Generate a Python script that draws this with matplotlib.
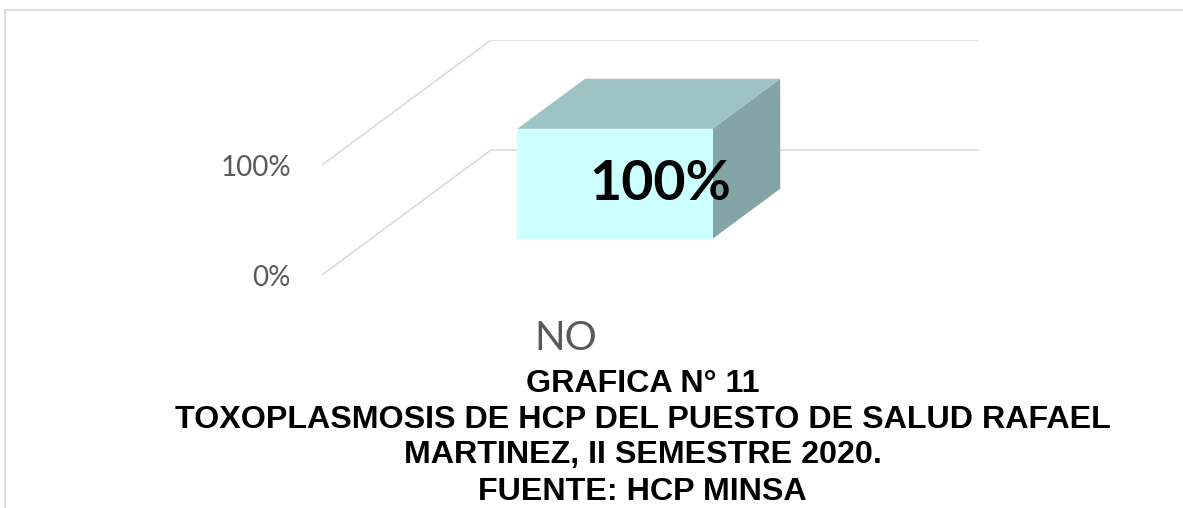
import matplotlib
matplotlib.use("Agg")
import matplotlib.pyplot as plt
from matplotlib.patches import Polygon, Rectangle
import matplotlib.transforms as mtransforms

# ---- data ----
categories = ["NO"]
values = [1.0]            # 100 %
tick_values = [0.0, 1.0]
tick_labels = ["0%", "100%"]
data_labels = ["100%"]
title_lines = ["GRAFICA N° 11",
               "TOXOPLASMOSIS DE HCP DEL PUESTO DE SALUD RAFAEL",
               "MARTINEZ, II SEMESTRE 2020.",
               "FUENTE: HCP MINSA"]

W, H = 1183, 508
fig = plt.figure(figsize=(W / 100, H / 100), dpi=100)
fig.patch.set_facecolor("white")

def fx(px):
    return px / W

def fy(py):
    return 1 - py / H

# chart area border (cropped at right and bottom)
fig.patches.append(Rectangle((fx(5), fy(H + 20)), fx(W + 20) - fx(5), fy(10) - fy(H + 20),
                             transform=fig.transFigure, fill=False,
                             edgecolor="#d9d9d9", linewidth=1.2))

# oblique 3-D projection parameters (in data units)
KX = 169 / 488.0   # horizontal shift for full depth (category units)
KY = 125 / 110.0   # vertical shift for full depth (value units)

left_px, right_px = 322, 979
bottom_px, top_px = 275, 40
ax = fig.add_axes([fx(left_px), fy(bottom_px), fx(right_px) - fx(left_px), fy(top_px) - fy(bottom_px)])
ax.set_xlim(-0.5, 0.5 + KX)
ax.set_ylim(0, 1 + KY)
ax.axis("off")

def proj(x, y, d):
    return (x + d * KX, y + d * KY)

grid_color = "#d9d9d9"
for v in tick_values:
    pts = [proj(-0.5, v, 0), proj(-0.5, v, 1), proj(0.5, v, 1)]
    ax.plot([p[0] for p in pts], [p[1] for p in pts], color=grid_color, lw=1.1,
            solid_joinstyle="miter", zorder=1)

tick_font = "Lato"
for v, lab in zip(tick_values, tick_labels):
    off = mtransforms.offset_copy(ax.transData, fig=fig, x=-31, y=-3, units="dots")
    ax.text(-0.5, v, lab, transform=off, ha="right", va="center", fontsize=20,
            color="#595959", family=tick_font)

bar_w = 0.4
d0, d1 = 0.29, 0.69
front_c, top_c, side_c = "#ccffff", "#9ec3c3", "#83a5a5"
for i, (cat, val) in enumerate(zip(categories, values)):
    x0, x1 = i - bar_w / 2, i + bar_w / 2
    front = [proj(x0, 0, d0), proj(x1, 0, d0), proj(x1, val, d0), proj(x0, val, d0)]
    top = [proj(x0, val, d0), proj(x1, val, d0), proj(x1, val, d1), proj(x0, val, d1)]
    side = [proj(x1, 0, d0), proj(x1, 0, d1), proj(x1, val, d1), proj(x1, val, d0)]
    for poly, c in ((side, side_c), (top, top_c), (front, front_c)):
        ax.add_patch(Polygon(poly, closed=True, facecolor=c, edgecolor="none", zorder=3))
    # data label
    cx, cy = proj(i, val / 2, d0)
    off = mtransforms.offset_copy(ax.transData, fig=fig, x=45, y=0, units="dots")
    ax.text(cx, cy, data_labels[i], transform=off, ha="center", va="center",
            fontsize=40, fontweight="bold", color="black", family="Lato", zorder=5)
    # category label
    off = mtransforms.offset_copy(ax.transData, fig=fig, x=0, y=-63, units="dots")
    ax.text(i, 0, cat, transform=off, ha="center", va="center", fontsize=29,
            color="#595959", family=tick_font)

# title
ys = [384, 419.5, 455.5, 491.5]
for line, y in zip(title_lines, ys):
    fig.text(fx(642.5), fy(y), line, ha="center", va="center", fontsize=23.2,
             fontweight="bold", family="Liberation Sans", color="black")

fig.savefig("out.png", dpi=100, facecolor="white")
